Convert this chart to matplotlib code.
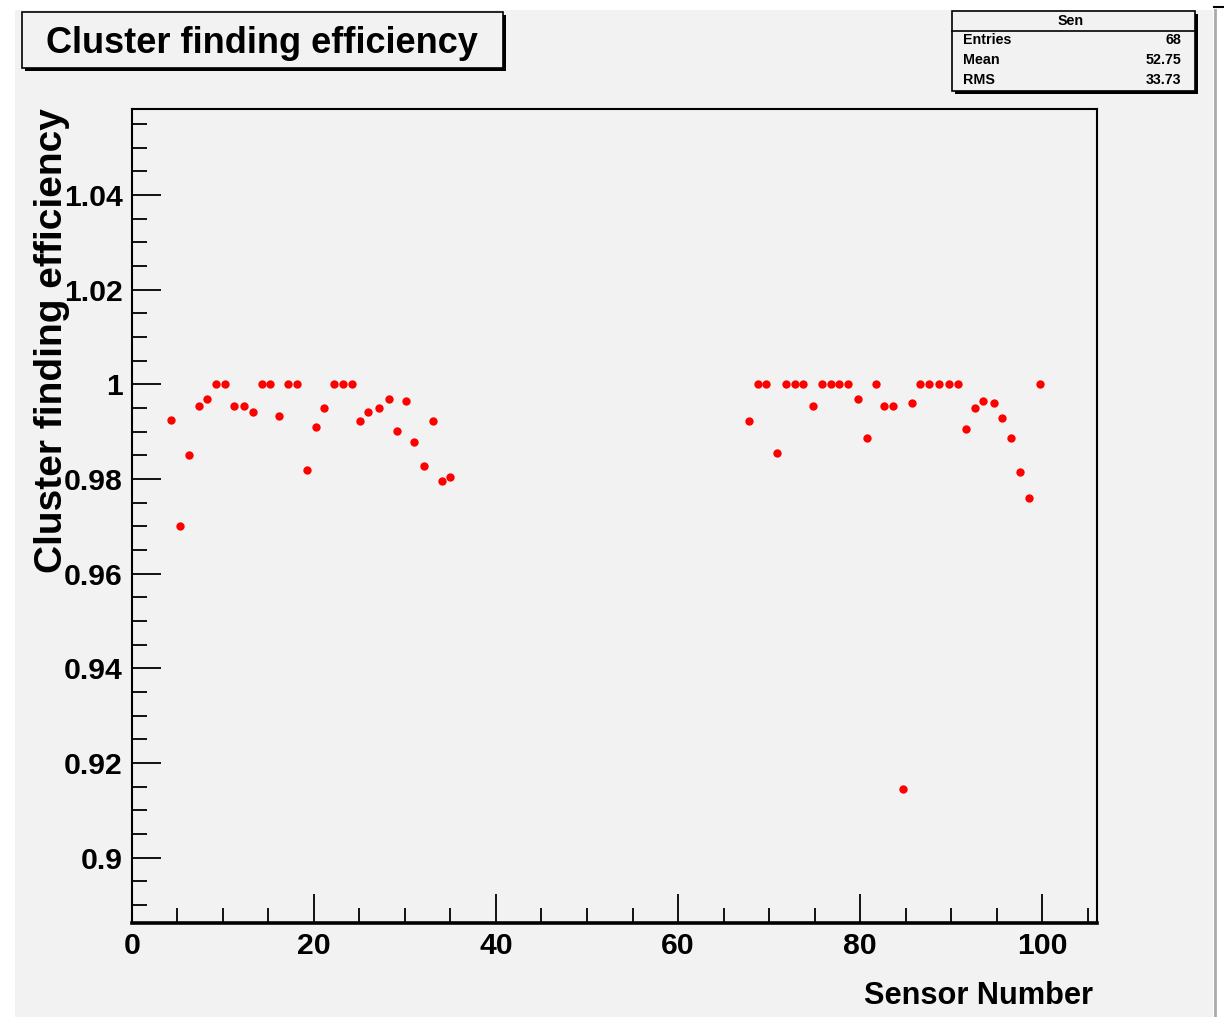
import matplotlib
matplotlib.use('Agg')
import matplotlib.pyplot as plt
from matplotlib import font_manager
from matplotlib.font_manager import FontProperties
from matplotlib.patches import Rectangle
from matplotlib.ticker import MultipleLocator, FuncFormatter

# dados
sensor_a = [4.3, 5.3, 6.3, 7.4, 8.3, 9.3, 10.3, 11.2, 12.3, 13.3, 14.3, 15.2,
            16.2, 17.2, 18.2, 19.2, 20.2, 21.1, 22.2, 23.2, 24.2, 25.1, 26.0, 27.2,
            28.2, 29.1, 30.1, 31.0, 32.1, 33.1, 34.1, 35.0]
eff_a = [0.9924, 0.9700, 0.9850, 0.9955, 0.9968, 1.0, 1.0, 0.9955, 0.9955, 0.9942,
         1.0, 1.0, 0.9932, 1.0, 1.0, 0.9818, 0.9909, 0.9950, 1.0, 1.0, 1.0, 0.9923,
         0.9942, 0.9950, 0.9968, 0.9901, 0.9964, 0.9878, 0.9827, 0.9923, 0.9796, 0.9805]

sensor_b = [67.8, 68.8, 69.7, 70.9, 71.8, 72.8, 73.7, 74.8, 75.8, 76.8, 77.7, 78.7,
            79.8, 80.7, 81.7, 82.6, 83.6, 84.7, 85.7, 86.6, 87.6, 88.6, 89.7, 90.7,
            91.6, 92.6, 93.5, 94.7, 95.6, 96.6, 97.5, 98.5, 99.7]
eff_b = [0.9923, 1.0, 1.0, 0.9854, 1.0, 1.0, 1.0, 0.9955, 1.0, 1.0, 1.0, 1.0,
         0.9968, 0.9887, 1.0, 0.9955, 0.9955, 0.9145, 0.9960, 1.0, 1.0, 1.0, 1.0, 1.0,
         0.9905, 0.9950, 0.9964, 0.9960, 0.9928, 0.9887, 0.9814, 0.9759, 1.0]

stats_labels = ['Entries', 'Mean', 'RMS']
stats_values = ['68', '52.75', '33.73']

W, H = 1224, 1017
bg = '#f2f2f2'

# fonte estreita (se existir), senao Liberation Sans menor
narrow_file = None
for f in font_manager.fontManager.ttflist:
    if ('Narrow' in f.name or 'Condensed' in f.name) and f.weight in ('bold', 700) \
            and ('Liberation' in f.name or 'Arial' in f.name):
        narrow_file = f.fname
        break

def nfont(size):
    if narrow_file:
        return FontProperties(fname=narrow_file, size=size)
    return FontProperties(family='Liberation Sans', weight='bold', size=size * 0.82)

fig = plt.figure(figsize=(W / 100, H / 100), dpi=100)
fig.patch.set_facecolor('white')

def fx(px):
    return px / W

def fy(py):
    return 1 - py / H

# painel cinza
fig.patches.append(Rectangle((fx(15), 0), fx(1213) - fx(15), fy(10), transform=fig.transFigure,
                             facecolor=bg, edgecolor='none', zorder=-10))
fig.lines.append(plt.Line2D([fx(1215), fx(1215)], [0, fy(10)], transform=fig.transFigure,
                            color='#aaaaaa', lw=2, zorder=-9))
fig.lines.append(plt.Line2D([fx(1214), fx(1224)], [fy(7), fy(7)], transform=fig.transFigure,
                            color='black', lw=1.5, zorder=-9))

ax = fig.add_axes([fx(131.7), fy(923.3), fx(1097) - fx(131.7), fy(109.3) - fy(923.3)])
ax.set_zorder(1)
ax.set_facecolor(bg)
ax.plot(sensor_a, eff_a, 'o', color='red', ms=6, mew=0)
ax.plot(sensor_b, eff_b, 'o', color='red', ms=6, mew=0)
ax.set_xlim(0, 106)
ax.set_ylim(0.8861, 1.0581)

ax.xaxis.set_major_locator(MultipleLocator(20))
ax.xaxis.set_minor_locator(MultipleLocator(5))
ax.yaxis.set_major_locator(MultipleLocator(0.02))
ax.yaxis.set_minor_locator(MultipleLocator(0.005))
ax.yaxis.set_major_formatter(FuncFormatter(lambda v, p: '%g' % round(v, 4)))
ax.tick_params(which='both', direction='in', top=False, right=False, width=1.3, color='black')
ax.tick_params(which='major', length=21, pad=6.5)
ax.tick_params(which='minor', length=10.5)
for lab in ax.get_xticklabels() + ax.get_yticklabels():
    lab.set_fontproperties(nfont(26.5))
for s in ax.spines.values():
    s.set_linewidth(1.5)
ax.spines['bottom'].set_linewidth(2.6)

# titulos dos eixos
fig.text(fx(52), fy(108), 'Cluster finding efficiency', rotation=90, ha='center', va='top',
         fontsize=28, fontweight='bold', family='Liberation Sans')
fig.text(fx(1093), fy(1004), 'Sensor Number', ha='right', va='baseline',
         fontproperties=nfont(27))

# caixa do titulo
fig.patches.append(Rectangle((fx(25), fy(71)), fx(503) - fx(22), fy(12) - fy(68),
                             transform=fig.transFigure, facecolor='black', edgecolor='none', zorder=1))
fig.patches.append(Rectangle((fx(22), fy(68)), fx(503) - fx(22), fy(12) - fy(68),
                             transform=fig.transFigure, facecolor=bg, edgecolor='black', lw=1.2, zorder=2))
fig.text(fx(262), fy(53), 'Cluster finding efficiency', ha='center', va='baseline',
         fontsize=26, fontweight='bold', family='Liberation Sans', zorder=3)

# caixa de estatisticas
fig.patches.append(Rectangle((fx(955), fy(94)), fx(1195) - fx(952), fy(11) - fy(91),
                             transform=fig.transFigure, facecolor='black', edgecolor='none', zorder=1))
fig.patches.append(Rectangle((fx(952), fy(91)), fx(1195) - fx(952), fy(11) - fy(91),
                             transform=fig.transFigure, facecolor=bg, edgecolor='black', lw=1.2, zorder=2))
fig.lines.append(plt.Line2D([fx(952), fx(1195)], [fy(31), fy(31)], transform=fig.transFigure,
                            color='black', lw=1.2, zorder=3))
fig.text(fx(1071), fy(21), 'Sen', ha='center', va='center', fontproperties=nfont(12.5), zorder=3)
for i in range(len(stats_labels)):
    yy = fy(40 + 20 * i)
    fig.text(fx(963), yy, stats_labels[i], ha='left', va='center', fontproperties=nfont(12.5), zorder=3)
    fig.text(fx(1181), yy, stats_values[i], ha='right', va='center', fontproperties=nfont(12.5), zorder=3)

fig.savefig('out.png', dpi=100, facecolor=fig.get_facecolor())
